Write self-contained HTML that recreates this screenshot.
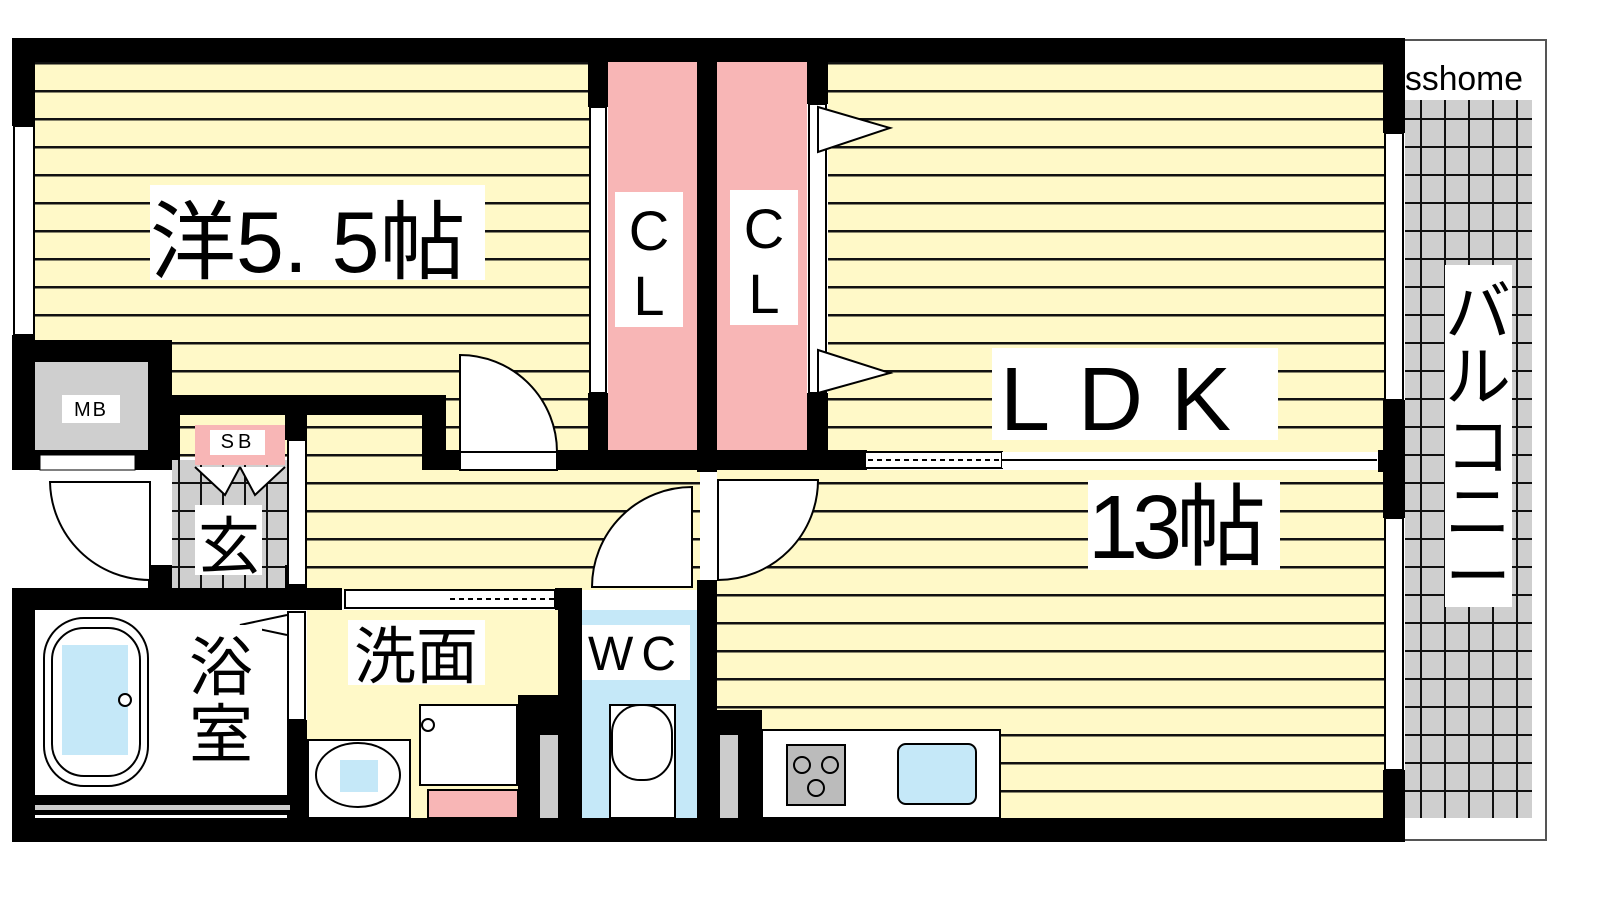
<!DOCTYPE html>
<html><head><meta charset="utf-8"><style>
html,body{margin:0;padding:0;background:#fff}
svg{display:block}
text{font-family:"Liberation Sans","Noto Sans CJK JP",sans-serif;fill:#000}
</style></head><body>
<svg width="1600" height="900" viewBox="0 0 1600 900" xmlns="http://www.w3.org/2000/svg">
<defs>
<pattern id="st" width="10" height="28" patternUnits="userSpaceOnUse" y="6">
<rect width="10" height="28" fill="#fff9c8"/><rect y="0" width="10" height="2.5" fill="#111"/>
</pattern>
<pattern id="gr" width="24" height="28" patternUnits="userSpaceOnUse" x="4" y="6">
<rect width="24" height="28" fill="#cfcfcf"/><rect x="0" width="2" height="28" fill="#111"/><rect y="0" width="24" height="2" fill="#111"/>
</pattern>
<pattern id="gr2" width="22" height="28" patternUnits="userSpaceOnUse" x="2" y="6">
<rect width="22" height="28" fill="#cfcfcf"/><rect x="0" width="2" height="28" fill="#111"/><rect y="0" width="22" height="2" fill="#111"/>
</pattern>
</defs>
<!-- balcony -->
<rect x="1403" y="40" width="143" height="800" fill="#fff" stroke="#555" stroke-width="2"/>
<rect x="1405" y="100" width="127" height="718" fill="url(#gr)"/>
<!-- floors -->
<rect x="35" y="62" width="555" height="395" fill="url(#st)"/>
<rect x="828" y="62" width="557" height="390" fill="url(#st)"/>
<rect x="300" y="415" width="400" height="175" fill="url(#st)"/>
<rect x="717" y="470" width="668" height="350" fill="url(#st)"/>
<rect x="608" y="62" width="90" height="390" fill="#f8b6b6"/>
<rect x="717" y="62" width="90" height="390" fill="#f8b6b6"/>
<rect x="172" y="460" width="115" height="130" fill="url(#gr2)"/>
<rect x="35" y="610" width="255" height="188" fill="#fff"/>
<rect x="307" y="610" width="252" height="210" fill="#fff9c8"/>
<rect x="582" y="610" width="115" height="210" fill="#c5e8f8"/>
<!-- walls -->
<g fill="#000">
<rect x="12" y="38" width="1393" height="24"/>
<rect x="12" y="38" width="23" height="88"/>
<rect x="12" y="335" width="23" height="135"/>
<rect x="12" y="340" width="160" height="22"/>
<rect x="148" y="340" width="24" height="130"/>
<rect x="12" y="450" width="160" height="20"/>
<rect x="148" y="395" width="295" height="20"/>
<rect x="422" y="395" width="24" height="75"/>
<rect x="422" y="450" width="38" height="20"/>
<rect x="557" y="450" width="310" height="20"/>
<rect x="588" y="62" width="20" height="45"/>
<rect x="588" y="393" width="20" height="77"/>
<rect x="697" y="62" width="20" height="410"/>
<rect x="807" y="62" width="21" height="42"/>
<rect x="807" y="393" width="21" height="77"/>
<rect x="1383" y="38" width="22" height="95"/>
<rect x="1383" y="400" width="22" height="118"/>
<rect x="1383" y="770" width="22" height="72"/>
<rect x="1378" y="450" width="10" height="22"/>
<rect x="285" y="415" width="22" height="25"/>
<rect x="12" y="588" width="330" height="22"/>
<rect x="555" y="588" width="27" height="22"/>
<rect x="12" y="588" width="23" height="254"/>
<rect x="148" y="565" width="24" height="25"/>
<rect x="285" y="565" width="22" height="25"/>
<rect x="287" y="720" width="20" height="100"/>
<rect x="12" y="795" width="295" height="20"/>
<rect x="558" y="588" width="24" height="232"/>
<rect x="518" y="695" width="40" height="125"/>
<rect x="697" y="580" width="20" height="240"/>
<rect x="717" y="710" width="45" height="110"/>
<rect x="12" y="818" width="1393" height="24"/>
<rect x="172" y="415" width="8" height="45"/>
</g>
<!-- fixtures -->
<rect x="35" y="362" width="113" height="88" fill="#cfcfcf"/>
<rect x="40" y="455" width="95" height="15" fill="#fff" stroke="#000"/>
<rect x="195" y="425" width="90" height="40" fill="#f8b6b6"/>
<rect x="540" y="735" width="18" height="83" fill="#ccc"/>
<rect x="720" y="735" width="18" height="83" fill="#ccc"/>
<rect x="35" y="805" width="255" height="5" fill="#ccc"/>
<!-- windows -->
<g fill="#fff" stroke="#000" stroke-width="2">
<rect x="14" y="126" width="20" height="209"/>
<rect x="590" y="107" width="16" height="286"/>
<rect x="809" y="104" width="17" height="289"/>
<rect x="1385" y="133" width="18" height="267"/>
<rect x="1385" y="518" width="18" height="252"/>
<rect x="288" y="440" width="18" height="145"/>
<rect x="288" y="612" width="17" height="108"/>
<rect x="345" y="590" width="210" height="18"/>
<rect x="865" y="452" width="137" height="16"/>
<rect x="1002" y="452" width="375" height="16" stroke="none"/>
</g>
<line x1="1002" y1="460" x2="1377" y2="460" stroke="#000" stroke-width="2"/>
<line x1="450" y1="599" x2="555" y2="599" stroke="#000" stroke-width="2" stroke-dasharray="5,4"/>
<line x1="868" y1="460" x2="1000" y2="460" stroke="#000" stroke-width="2" stroke-dasharray="5,4"/>
<!-- doors -->
<g fill="#fff" stroke="#000" stroke-width="2">
<path d="M460 355 A97 97 0 0 1 557 452 L460 452 Z"/>
<rect x="460" y="452" width="97" height="18"/>
<path d="M150 580 A100 100 0 0 1 50 482 L150 482 Z"/>
<path d="M692 487 A100 100 0 0 0 592 587 L692 587 Z"/>
<path d="M718 580 A100 100 0 0 0 818 480 L718 480 Z"/>
<path d="M818 107 L890 128 L818 152 Z"/>
<path d="M818 350 L890 373 L818 393 Z"/>
<path d="M287 615 L240 625 L287 635"/>
<path d="M195 467 L225 495 L240 467 M285 467 L255 495 L240 467"/>
<rect x="420" y="705" width="97" height="80"/>
<rect x="428" y="790" width="90" height="28" fill="#f8b6b6"/>
<rect x="308" y="740" width="102" height="78"/>
<ellipse cx="358" cy="775" rx="42" ry="32"/>
<rect x="610" y="705" width="65" height="113"/>
<rect x="612" y="705" width="60" height="75" rx="28"/>
<rect x="44" y="618" width="104" height="168" rx="40"/>
<rect x="52" y="628" width="88" height="148" rx="32"/>
<rect x="762" y="730" width="238" height="88"/>
<rect x="787" y="745" width="58" height="60" fill="#bbb"/>
<rect x="898" y="744" width="78" height="60" rx="8" fill="#c5e8f8"/>
</g>
<rect x="62" y="645" width="66" height="110" fill="#c5e8f8"/>
<circle cx="125" cy="700" r="6" fill="#fff" stroke="#000" stroke-width="2"/>
<rect x="340" y="760" width="38" height="32" fill="#c5e8f8"/>
<circle cx="428" cy="725" r="6" fill="#fff" stroke="#000" stroke-width="2"/>
<g fill="none" stroke="#000" stroke-width="2"><circle cx="802" cy="765" r="8"/><circle cx="830" cy="765" r="8"/><circle cx="816" cy="788" r="8"/></g>
<!-- labels -->
<g fill="#fff">
<rect x="150" y="185" width="335" height="95"/>
<rect x="615" y="192" width="68" height="135"/>
<rect x="730" y="190" width="68" height="135"/>
<rect x="992" y="348" width="286" height="92"/>
<rect x="1088" y="480" width="192" height="90"/>
<rect x="1445" y="265" width="67" height="342"/>
<rect x="180" y="625" width="82" height="140"/>
<rect x="348" y="620" width="137" height="65"/>
<rect x="582" y="625" width="108" height="55"/>
<rect x="195" y="505" width="67" height="70"/>
<rect x="62" y="395" width="58" height="28"/>
<rect x="210" y="430" width="55" height="25"/>
<rect x="1405" y="58" width="122" height="38"/>
</g>
<text x="150" y="272" font-size="86">洋5. 5帖</text>
<text x="649" y="250" font-size="56" text-anchor="middle">C</text>
<text x="649" y="315" font-size="56" text-anchor="middle">L</text>
<text x="764" y="248" font-size="56" text-anchor="middle">C</text>
<text x="764" y="313" font-size="56" text-anchor="middle">L</text>
<text x="1000" y="430" font-size="90" letter-spacing="28">LDK</text>
<text x="1088" y="558" font-size="90" letter-spacing="-6">13帖</text>
<text x="1478" y="335" font-size="66" text-anchor="middle">バ</text>
<text x="1478" y="400" font-size="66" text-anchor="middle">ル</text>
<text x="1478" y="470" font-size="66" text-anchor="middle">コ</text>
<text x="1478" y="535" font-size="66" text-anchor="middle">ニ</text>
<text x="1478" y="600" font-size="66" text-anchor="middle">ー</text>
<text x="221" y="690" font-size="64" text-anchor="middle">浴</text>
<text x="221" y="757" font-size="64" text-anchor="middle">室</text>
<text x="416" y="678" font-size="62" text-anchor="middle">洗面</text>
<text x="636" y="670" font-size="48" text-anchor="middle" letter-spacing="8">WC</text>
<text x="229" y="568" font-size="62" text-anchor="middle">玄</text>
<text x="91" y="416" font-size="20" text-anchor="middle" letter-spacing="2">MB</text>
<text x="238" y="448" font-size="20" text-anchor="middle" letter-spacing="4">SB</text>
<text x="1405" y="90" font-size="34" textLength="118" lengthAdjust="spacingAndGlyphs">sshome</text>
</svg>
</body></html>
